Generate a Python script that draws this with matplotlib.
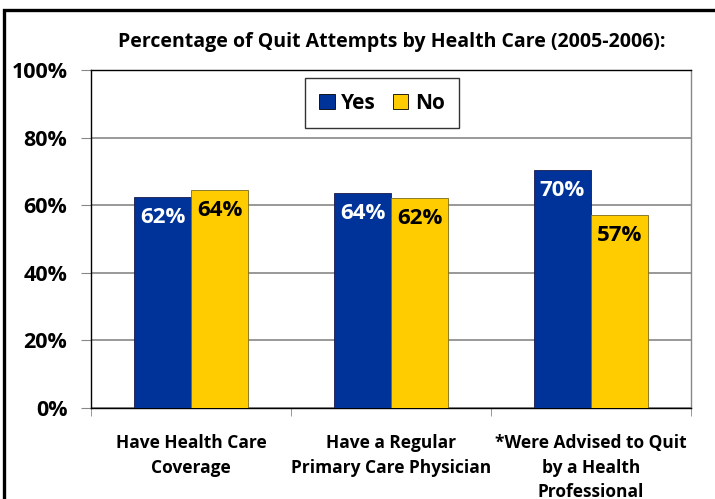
import numpy as np
import matplotlib
matplotlib.use('Agg')
import matplotlib.pyplot as plt
from matplotlib.patches import Rectangle

plt.rcParams['font.family'] = ['Open Sans', 'DejaVu Sans']
plt.rcParams['font.weight'] = 'bold'

categories = ['Have Health Care\nCoverage',
              'Have a Regular\nPrimary Care Physician',
              '*Were Advised to Quit\nby a Health\nProfessional']
yes_vals = [62.4, 63.6, 70.4]
no_vals = [64.4, 62.1, 57.1]
yes_labels = ['62%', '64%', '70%']
no_labels = ['64%', '62%', '57%']
yticks = [0, 20, 40, 60, 80, 100]

NAVY = '#003399'
GOLD = '#FFCC00'

fig = plt.figure(figsize=(7.15, 4.99), dpi=100)
ax = fig.add_axes([91 / 715, 1 - 408 / 499, 600 / 715, 338 / 499])

x = np.arange(len(categories))
w = 0.285
b1 = ax.bar(x - w / 2, yes_vals, w, color=NAVY, edgecolor='#1a1a4a', lw=0.6, label='Yes', zorder=3)
b2 = ax.bar(x + w / 2, no_vals, w, color=GOLD, edgecolor='#7a6a20', lw=0.6, label='No', zorder=3)

# value labels sit just inside the top of each bar
for rect, lab in zip(b1, yes_labels):
    ax.text(rect.get_x() + rect.get_width() / 2, rect.get_height() - 3.0, lab,
            ha='center', va='top', color='white', fontsize=16, fontweight='bold', zorder=4)
for rect, lab in zip(b2, no_labels):
    ax.text(rect.get_x() + rect.get_width() / 2, rect.get_height() - 3.0, lab,
            ha='center', va='top', color='black', fontsize=16, fontweight='bold', zorder=4)

ax.set_xlim(-0.5, len(categories) - 0.5)
ax.set_ylim(0, 100)
ax.set_yticks(yticks)
ax.set_yticklabels([f'{t}%' for t in yticks], fontsize=15.5, fontweight='bold')
ax.yaxis.grid(True, color='#888888', lw=1.2, zorder=0)
ax.set_xticks(np.arange(len(categories) + 1) - 0.5, minor=True)
ax.set_xticks(x)
ax.set_xticklabels(categories, fontsize=12.5, fontweight='bold', linespacing=1.45)
ax.tick_params(axis='x', which='major', length=0, pad=19)
ax.tick_params(axis='x', which='minor', length=6, color='#888888')
ax.tick_params(axis='y', length=7, color='#888888', pad=10)

ax.spines['top'].set_color('black')
ax.spines['left'].set_color('black')
ax.spines['bottom'].set_color('black')
ax.spines['right'].set_color('#888888')
for s in ax.spines.values():
    s.set_linewidth(1.0)

leg = ax.legend(loc='upper center', bbox_to_anchor=(291 / 600, 330 / 338), ncol=2,
                frameon=True, fancybox=False, edgecolor='black', borderaxespad=0,
                handlelength=0.75, handleheight=0.75, handletextpad=0.3,
                columnspacing=0.8, borderpad=0.7, prop={'weight': 'bold', 'size': 15})
leg.get_frame().set_linewidth(1.0)
for h in leg.legend_handles:
    h.set_edgecolor('black')

fig.text(392 / 715, 1 - 42 / 499, 'Percentage of Quit Attempts by Health Care (2005-2006):',
         ha='center', va='center', fontsize=14, fontweight='bold')

# outer frame, open at the bottom and right like the source slide
fig.patches.append(Rectangle((4 / 715, -0.1), 1.0, 1 - 10 / 499 + 0.1,
                             transform=fig.transFigure, fill=False, lw=2.4,
                             edgecolor='black', zorder=10))

fig.savefig('out.png', dpi=100)
